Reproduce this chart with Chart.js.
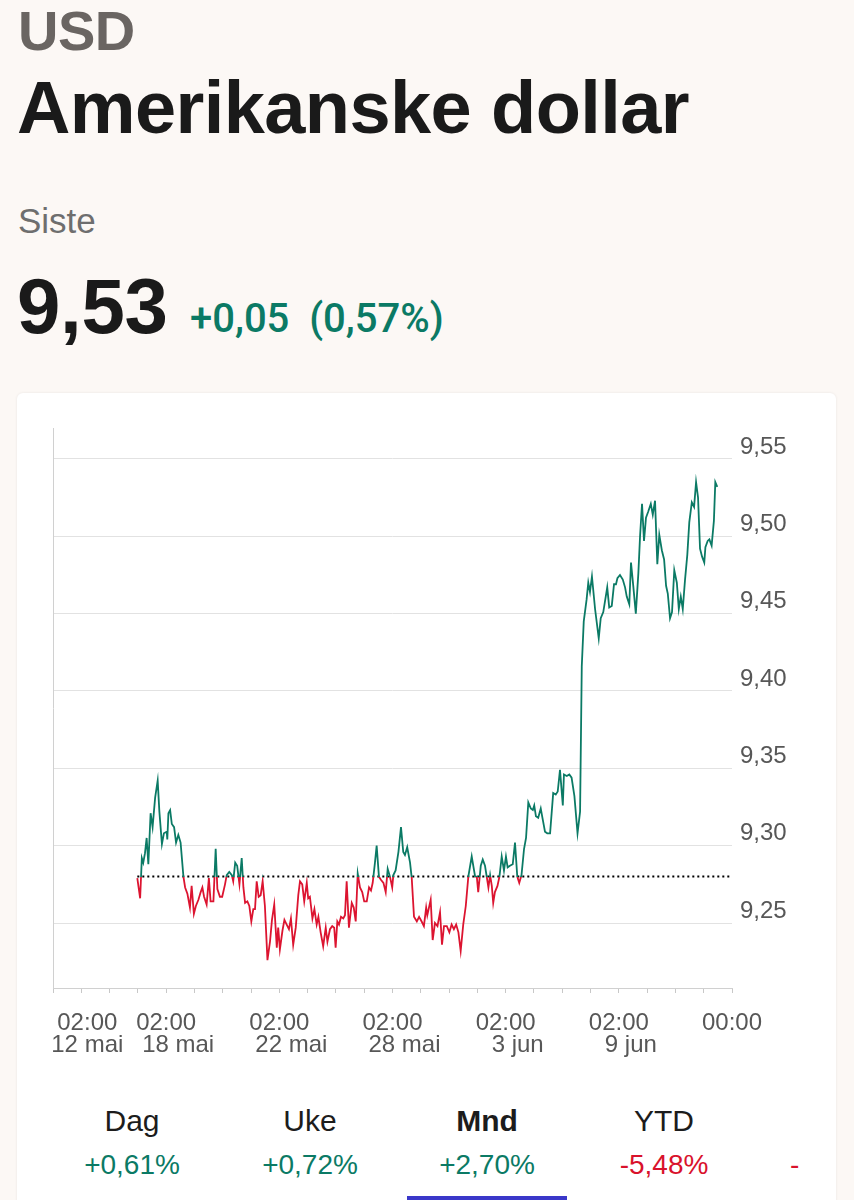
<!DOCTYPE html>
<html lang="no">
<head>
<meta charset="utf-8">
<script src="https://cdn.jsdelivr.net/npm/chart.js@4.4.1/dist/chart.umd.min.js"></script>
<style>
  html, body { margin: 0; padding: 0; }
  body { width: 854px; height: 1200px; background: #fcf8f5; position: relative; overflow: hidden;
         font-family: "Liberation Sans", Arial, sans-serif; color: #1c1c1c; }
  .abs { position: absolute; white-space: nowrap; line-height: 1; }
  #code { left: 18px; top: 3px; font-size: 56px; font-weight: 700; color: #6a6562; letter-spacing: -0.5px; }
  #name { left: 17px; top: 71px; font-size: 74px; font-weight: 700; color: #1a1a1a; letter-spacing: -0.6px; }
  #siste { left: 18px; top: 203px; font-size: 35px; color: #6e6e6e; }
  #last { left: 17px; top: 267px; font-size: 78px; font-weight: 700; color: #1a1a1a; letter-spacing: -0.3px; }
  #chg { left: 190px; top: 299px; font-family: Roboto, "Liberation Sans", sans-serif; font-size: 40px; font-weight: 500; color: #0b7a65; }
  #card { position: absolute; left: 17px; top: 393px; width: 819px; height: 900px; background: #ffffff;
          border-radius: 6px; box-shadow: 0 0 3px rgba(0,0,0,0.08); }
  #chart { position: absolute; left: 17px; top: 400px; }
  .lab { position: absolute; top: 1106px; font-size: 30px; color: #1c1c1c; text-align: center; width: 160px; line-height: 1; }
  .val { position: absolute; top: 1151px; font-size: 28px; text-align: center; width: 160px; line-height: 1; }
  .pos { color: #0b7a65; }
  .neg { color: #d9122c; }
  #bar { position: absolute; left: 407px; top: 1196px; width: 160px; height: 4px; background: #3a37c9; }
</style>
</head>
<body>
<div id="code" class="abs">USD</div>
<div id="name" class="abs">Amerikanske dollar</div>
<div id="siste" class="abs">Siste</div>
<div id="last" class="abs">9,53</div>
<div id="chg" class="abs">+0,05&nbsp;&nbsp;(0,57%)</div>
<div id="card"></div>
<canvas id="chart" width="819" height="680" style="width:819px;height:680px"></canvas>

<div class="lab" style="left:52px">Dag</div>
<div class="lab" style="left:230px">Uke</div>
<div class="lab" style="left:407px;font-weight:700">Mnd</div>
<div class="lab" style="left:584px">YTD</div>
<div class="val pos" style="left:52px">+0,61%</div>
<div class="val pos" style="left:230px">+0,72%</div>
<div class="val pos" style="left:407px">+2,70%</div>
<div class="val neg" style="left:584px">-5,48%</div>
<div class="val neg" style="left:790px;width:20px;text-align:left">-</div>
<div id="bar"></div>

<script>
// ---- data ----
const times = [2.98,3.08,3.14,3.19,3.25,3.31,3.37,3.45,3.52,3.61,3.70,3.76,3.85,3.92,4.02,4.04,4.08,4.14,4.20,4.28,4.35,4.43,4.51,4.61,4.67,4.75,4.84,4.90,4.98,5.05,5.14,5.22,5.28,5.34,5.43,5.51,5.57,5.67,5.75,5.81,5.90,5.98,6.08,6.14,6.23,6.32,6.37,6.44,6.51,6.59,6.67,6.73,6.79,6.87,6.94,7.01,7.08,7.14,7.20,7.27,7.34,7.41,7.49,7.58,7.67,7.74,7.82,7.91,7.96,8.02,8.11,8.18,8.26,8.34,8.41,8.49,8.58,8.67,8.73,8.81,8.88,8.97,9.02,9.08,9.17,9.24,9.32,9.38,9.46,9.55,9.64,9.70,9.79,9.87,9.94,9.99,10.05,10.11,10.18,10.26,10.32,10.38,10.46,10.56,10.63,10.70,10.77,10.85,10.93,11.00,11.09,11.17,11.24,11.30,11.38,11.44,11.52,11.59,11.68,11.76,11.83,11.91,11.99,12.03,12.11,12.21,12.30,12.38,12.44,12.52,12.62,12.68,12.76,12.86,12.94,13.03,13.11,13.19,13.23,13.35,13.42,13.50,13.59,13.68,13.75,13.82,13.92,14.01,14.09,14.17,14.25,14.33,14.41,14.50,14.59,14.68,14.80,14.92,14.98,15.03,15.12,15.19,15.27,15.33,15.39,15.45,15.51,15.56,15.62,15.71,15.78,15.86,15.94,16.01,16.07,16.15,16.25,16.33,16.41,16.48,16.56,16.65,16.72,16.80,16.89,16.96,17.01,17.07,17.15,17.24,17.31,17.39,17.47,17.57,17.68,17.77,17.84,17.92,18.02,18.06,18.16,18.25,18.33,18.43,18.54,18.63,18.69,18.76,18.86,18.92,18.98,19.05,19.16,19.29,19.36,19.45,19.59,19.66,19.75,19.83,19.90,19.95,20.04,20.14,20.22,20.28,20.37,20.43,20.51,20.60,20.69,20.75,20.82,20.89,20.96,21.04,21.13,21.20,21.28,21.36,21.43,21.52,21.60,21.67,21.73,21.81,21.88,21.96,22.05,22.12,22.19,22.26,22.34,22.42,22.49,22.58,22.66,22.73,22.80,22.87,22.94,23.02,23.06,23.14,23.20,23.28,23.36,23.41,23.48];
const rates = [9.279,9.266,9.292,9.289,9.295,9.305,9.288,9.321,9.312,9.331,9.342,9.322,9.301,9.308,9.309,9.304,9.321,9.323,9.314,9.312,9.302,9.307,9.302,9.280,9.273,9.269,9.260,9.274,9.256,9.261,9.265,9.270,9.273,9.267,9.262,9.279,9.264,9.264,9.298,9.272,9.267,9.267,9.275,9.281,9.283,9.281,9.277,9.289,9.287,9.275,9.292,9.273,9.263,9.264,9.261,9.251,9.259,9.259,9.277,9.267,9.268,9.277,9.261,9.226,9.238,9.252,9.262,9.234,9.247,9.233,9.245,9.252,9.249,9.246,9.253,9.236,9.247,9.268,9.277,9.275,9.264,9.276,9.266,9.267,9.253,9.259,9.249,9.254,9.244,9.235,9.247,9.238,9.246,9.248,9.247,9.234,9.251,9.249,9.254,9.253,9.255,9.277,9.247,9.263,9.260,9.251,9.282,9.273,9.270,9.264,9.264,9.273,9.271,9.276,9.289,9.300,9.280,9.278,9.276,9.270,9.285,9.280,9.273,9.281,9.284,9.296,9.312,9.296,9.294,9.299,9.289,9.279,9.254,9.251,9.254,9.251,9.248,9.260,9.255,9.265,9.239,9.250,9.248,9.257,9.236,9.248,9.248,9.244,9.249,9.246,9.249,9.244,9.232,9.249,9.261,9.280,9.293,9.280,9.280,9.270,9.287,9.291,9.287,9.280,9.273,9.281,9.274,9.263,9.270,9.274,9.280,9.293,9.284,9.293,9.286,9.287,9.288,9.302,9.280,9.276,9.281,9.298,9.305,9.328,9.324,9.323,9.326,9.319,9.318,9.324,9.317,9.309,9.308,9.308,9.334,9.333,9.335,9.349,9.326,9.346,9.345,9.346,9.344,9.332,9.308,9.322,9.416,9.445,9.459,9.470,9.464,9.474,9.453,9.434,9.447,9.451,9.467,9.454,9.455,9.469,9.469,9.473,9.475,9.472,9.467,9.461,9.456,9.483,9.468,9.450,9.476,9.500,9.521,9.497,9.512,9.516,9.521,9.514,9.523,9.482,9.501,9.491,9.485,9.468,9.463,9.447,9.451,9.478,9.470,9.453,9.461,9.453,9.472,9.488,9.509,9.522,9.519,9.535,9.525,9.492,9.487,9.483,9.493,9.497,9.498,9.494,9.510,9.535,9.532];
const baselineRate = 9.28;      // start of period (dotted line)
const yTickValues = [9.25, 9.30, 9.35, 9.40, 9.45, 9.50, 9.55];
const xTickCount = 25;          // tick marks along the time axis (0..24)
const xLabelTicks = [1, 4, 8, 12, 16, 20, 24];
const xLabelTimes = ["\u200202:00", "02:00", "02:00", "02:00", "02:00", "02:00", "00:00"];
const xLabelDates = ["\u200212 mai", "\u2002\u200218 mai", "\u2002\u200222 mai", "\u2002\u200228 mai", "\u2002\u20023 jun", "\u2002\u20029 jun", " "];
const yMin = 9.208, yMax = 9.570;

const GREEN = "#0b7a65", RED = "#dc1430";
const tickFont = { family: "'Liberation Sans', Arial, sans-serif", size: 24 };

const seriesPoints = times.map((t, i) => ({ x: t, y: rates[i] }));
const basePoints = [{ x: times[0], y: baselineRate }, { x: xTickCount - 1, y: baselineRate }];

function splitColor(ctx) {
  const chart = ctx.chart;
  const area = chart.chartArea;
  if (!area) return GREEN;
  const yb = chart.scales.y.getPixelForValue(baselineRate);
  let f = (yb - area.top) / (area.bottom - area.top);
  f = Math.min(1, Math.max(0, f));
  const g = chart.ctx.createLinearGradient(0, area.top, 0, area.bottom);
  g.addColorStop(0, GREEN); g.addColorStop(f, GREEN);
  g.addColorStop(f, RED); g.addColorStop(1, RED);
  return g;
}

new Chart(document.getElementById("chart"), {
  type: "line",
  data: {
    datasets: [
      { data: seriesPoints, borderColor: splitColor, borderWidth: 1.8, pointRadius: 0, tension: 0, yAxisID: "y", order: 1 },
      { data: basePoints, borderColor: "#000000", borderWidth: 2, borderDash: [2, 3], pointRadius: 0, yAxisID: "y", order: 2 }
    ]
  },
  options: {
    responsive: false,
    animation: false,
    events: [],
    layout: { padding: { top: 28, left: 36, right: 0, bottom: 0 } },
    plugins: { legend: { display: false }, tooltip: { enabled: false } },
    scales: {
      x: {
        type: "linear", position: "bottom", min: 0, max: xTickCount - 1,
        afterBuildTicks: s => { s.ticks = Array.from({ length: xTickCount }, (_, i) => ({ value: i })); },
        afterFit: s => { s.height = 92; },
        grid: { display: true, drawOnChartArea: false, drawTicks: true, tickLength: 5, color: "#c8c8c8", lineWidth: 1 },
        border: { display: true, color: "#d0d0d0", width: 1 },
        ticks: {
          autoSkip: false, maxRotation: 0, minRotation: 0, padding: 19, color: "#575757",
          font: { ...tickFont, lineHeight: 0.92 },
          callback: v => {
            const k = xLabelTicks.indexOf(v);
            if (k < 0) return "";
            return [xLabelTimes[k], xLabelDates[k]];
          }
        }
      },
      yl: {
        type: "linear", position: "left", min: yMin, max: yMax,
        afterFit: s => { s.width = 0; },
        grid: { display: false, drawTicks: false },
        border: { display: true, color: "#d0d0d0", width: 1 },
        ticks: { display: false }
      },
      y: {
        type: "linear", position: "right", min: yMin, max: yMax,
        afterBuildTicks: s => { s.ticks = yTickValues.map(v => ({ value: v })); },
        afterFit: s => { s.width = 104; },
        grid: { color: "#e2e2e2", lineWidth: 1, drawTicks: false },
        border: { display: false },
        ticks: {
          padding: 8, color: "#575757", font: tickFont, labelOffset: -12,
          callback: v => v.toFixed(2).replace(".", ",")
        }
      }
    }
  }
});
</script>
</body>
</html>
